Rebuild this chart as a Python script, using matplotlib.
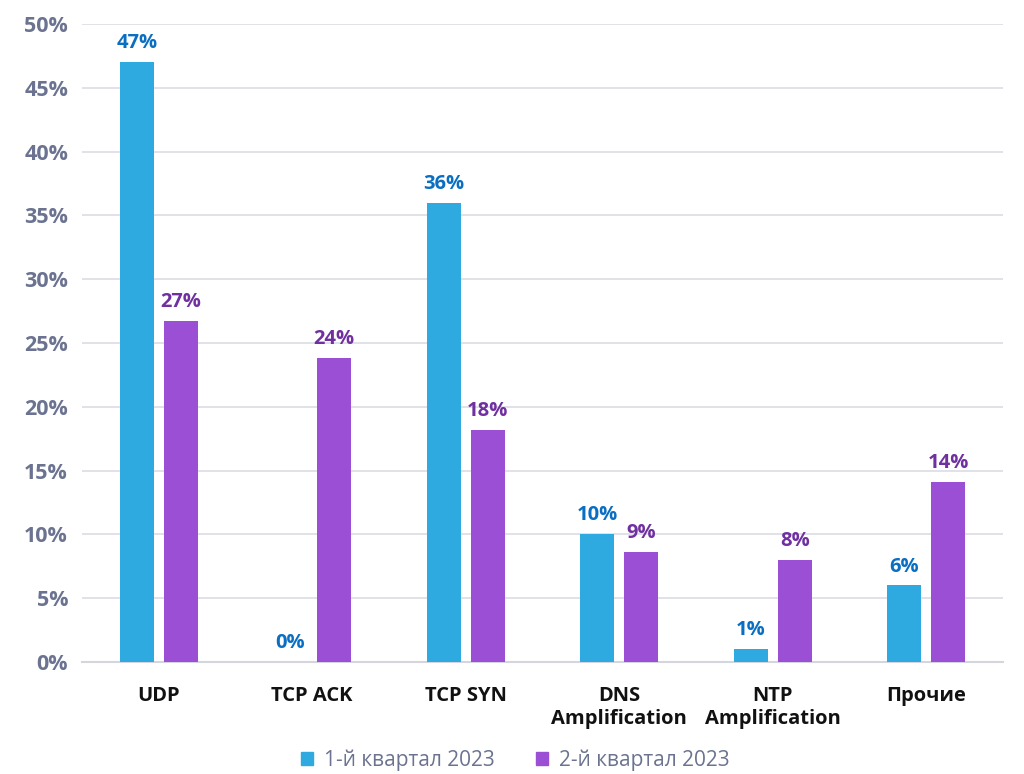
import numpy as np
import matplotlib.pyplot as plt
from matplotlib.patches import Patch

plt.rcParams['font.family'] = ['Open Sans', 'DejaVu Sans']

# data
categories = ['UDP', 'TCP ACK', 'TCP SYN', 'DNS\nAmplification', 'NTP\nAmplification', 'Прочие']
q1 = [47.0, 0.0, 36.0, 10.0, 1.0, 6.0]
q2 = [26.7, 23.8, 18.2, 8.6, 8.0, 14.1]
q1_labels = ['47%', '0%', '36%', '10%', '1%', '6%']
q2_labels = ['27%', '24%', '18%', '9%', '8%', '14%']
series = ['1-й квартал 2023', '2-й квартал 2023']
yticks = [0, 5, 10, 15, 20, 25, 30, 35, 40, 45, 50]

c1, c2 = '#2eaae1', '#9b4fd4'
t1, t2 = '#0a6fc2', '#7030a0'
grey = '#6b7390'

fig = plt.figure(figsize=(10.24, 7.74), dpi=100)
ax = fig.add_axes([0.08, 0.1447, 0.8995, 0.8243])

x = np.arange(len(categories))
w = 0.22
off = 0.143
ax.bar(x - off, q1, w, color=c1, zorder=3)
ax.bar(x + off, q2, w, color=c2, zorder=3)

for i in range(len(x)):
    ax.text(x[i] - off, q1[i] + 0.7, q1_labels[i], ha='center', va='bottom',
            color=t1, fontsize=14.5, fontweight='bold')
    ax.text(x[i] + off, q2[i] + 0.7, q2_labels[i], ha='center', va='bottom',
            color=t2, fontsize=14.5, fontweight='bold')

ax.set_xlim(-0.5, len(x) - 0.5)
ax.set_ylim(0, 50)
ax.set_yticks(yticks)
ax.set_yticklabels([f'{v}%' for v in yticks], color=grey, fontsize=15.5, fontweight='bold')
ax.set_xticks(x)
ax.set_xticklabels(categories, fontsize=14.5, fontweight='bold', color='#111111',
                   linespacing=1.25, va='top')
ax.tick_params(axis='both', length=0)
ax.tick_params(axis='x', pad=17)
ax.tick_params(axis='y', pad=10)
ax.grid(axis='y', color='#dcdce6', linewidth=1.2, zorder=0)
for s in ['top', 'right', 'left']:
    ax.spines[s].set_visible(False)
ax.spines['bottom'].set_color('#d5d5e0')
ax.spines['bottom'].set_linewidth(1.5)

handles = [Patch(color=c1, label=series[0]), Patch(color=c2, label=series[1])]
leg = fig.legend(handles=handles, loc='center', bbox_to_anchor=(0.503, 0.018), ncol=2,
                 frameon=False, fontsize=15, handlelength=0.6, handleheight=0.6,
                 handletextpad=0.5, columnspacing=2.0)
for t in leg.get_texts():
    t.set_color(grey)

fig.savefig('out.png', dpi=100)
